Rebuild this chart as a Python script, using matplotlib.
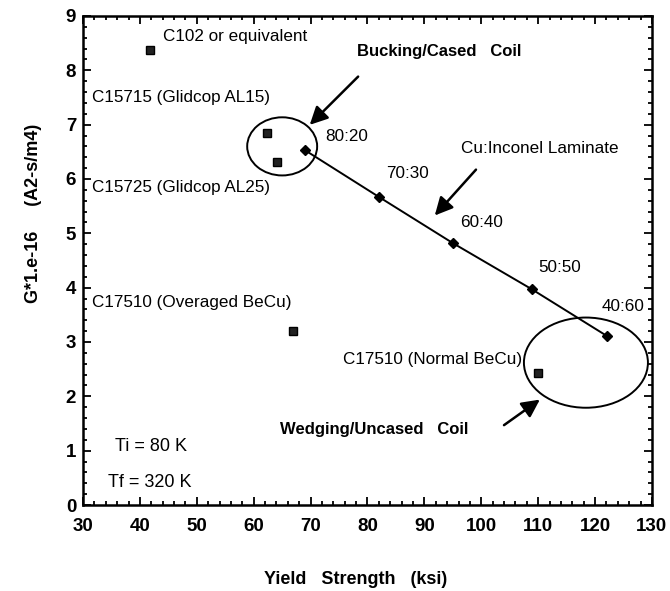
import numpy as np
import matplotlib.pyplot as plt
from matplotlib.patches import Ellipse
from matplotlib.ticker import MultipleLocator

plt.rcParams['font.family'] = ['Liberation Sans', 'DejaVu Sans']

# Alloy data (square markers)
alloy_names = ['C102 or equivalent', 'C15715 (Glidcop AL15)', 'C15725 (Glidcop AL25)',
               'C17510 (Overaged BeCu)', 'C17510 (Normal BeCu)']
alloy_ys = [41.8, 62.3, 64.1, 66.9, 110.0]
alloy_g = [8.38, 6.84, 6.31, 3.2, 2.43]

# Cu:Inconel laminate (diamond markers, joined line)
lam_labels = ['80:20', '70:30', '60:40', '50:50', '40:60']
lam_ys = [69.0, 82.0, 95.0, 108.9, 122.1]
lam_g = [6.53, 5.67, 4.82, 3.97, 3.11]

fig = plt.figure(figsize=(6.7, 5.91), dpi=100)
ax = fig.add_axes([0.124, 0.1455, 0.849, 0.8275])

ax.plot(lam_ys, lam_g, color='black', lw=1.4, marker='D', ms=5, mfc='black', mec='black')
ax.plot(alloy_ys, alloy_g, ls='none', marker='s', ms=6, mfc='#222222', mec='black')

# ellipses around the coil regions
ax.add_patch(Ellipse((65.0, 6.6), 12.3, 1.07, fill=False, ec='black', lw=1.4))
ax.add_patch(Ellipse((118.4, 2.62), 21.8, 1.66, fill=False, ec='black', lw=1.4))

# labels
fs = 12.3
ax.text(44.1, 8.62, alloy_names[0], fontsize=fs, ha='left', va='center')
ax.text(31.6, 7.5, alloy_names[1], fontsize=fs, ha='left', va='center')
ax.text(31.6, 5.85, alloy_names[2], fontsize=fs, ha='left', va='center')
ax.text(31.6, 3.72, alloy_names[3], fontsize=fs, ha='left', va='center')
ax.text(75.7, 2.67, alloy_names[4], fontsize=fs, ha='left', va='center')

lab_pos = [(72.5, 6.78), (83.2, 6.1), (96.3, 5.19), (110.0, 4.37), (121.2, 3.65)]
for t, (x, y) in zip(lam_labels, lab_pos):
    ax.text(x, y, t, fontsize=fs, ha='left', va='center')

ax.text(96.4, 6.56, 'Cu:Inconel Laminate', fontsize=fs, ha='left', va='center')
ax.text(78.2, 8.34, 'Bucking/Cased   Coil', fontsize=12, fontweight='bold', ha='left', va='center')
ax.text(64.6, 1.39, 'Wedging/Uncased   Coil', fontsize=12, fontweight='bold', ha='left', va='center')
ax.text(35.6, 1.07, 'Ti = 80 K', fontsize=13, ha='left', va='center')
ax.text(34.4, 0.42, 'Tf = 320 K', fontsize=13, ha='left', va='center')

# arrows
arrow = dict(arrowstyle='-|>,head_length=0.6,head_width=0.3', color='black', lw=1.8, mutation_scale=18)
ax.annotate('', xy=(69.5, 6.96), xytext=(78.7, 7.92), arrowprops=arrow)
ax.annotate('', xy=(91.5, 5.29), xytext=(99.4, 6.21), arrowprops=arrow)
ax.annotate('', xy=(110.7, 1.97), xytext=(103.6, 1.44), arrowprops=arrow)

ax.set_xlim(30, 130)
ax.set_ylim(0, 9)
ax.xaxis.set_major_locator(MultipleLocator(10))
ax.xaxis.set_minor_locator(MultipleLocator(2))
ax.yaxis.set_major_locator(MultipleLocator(1))
ax.yaxis.set_minor_locator(MultipleLocator(0.2))
ax.tick_params(which='both', direction='in', top=True, right=True, width=1.3)
ax.tick_params(which='major', length=6, labelsize=13.5)
ax.tick_params(which='minor', length=3)
ax.tick_params(axis='x', which='major', pad=9)
ax.tick_params(axis='y', which='major', pad=5)
for lab in ax.get_xticklabels() + ax.get_yticklabels():
    lab.set_fontweight('bold')
for s in ax.spines.values():
    s.set_linewidth(1.8)

ax.set_xlabel('Yield   Strength   (ksi)', fontsize=13, fontweight='bold', va='center')
ax.xaxis.set_label_coords(0.48, -0.153)
ax.set_ylabel('G*1.e-16     (A2-s/m4)', fontsize=13, fontweight='bold', va='center')
ax.yaxis.set_label_coords(-0.088, 0.597)

fig.savefig('out.png', dpi=100)
